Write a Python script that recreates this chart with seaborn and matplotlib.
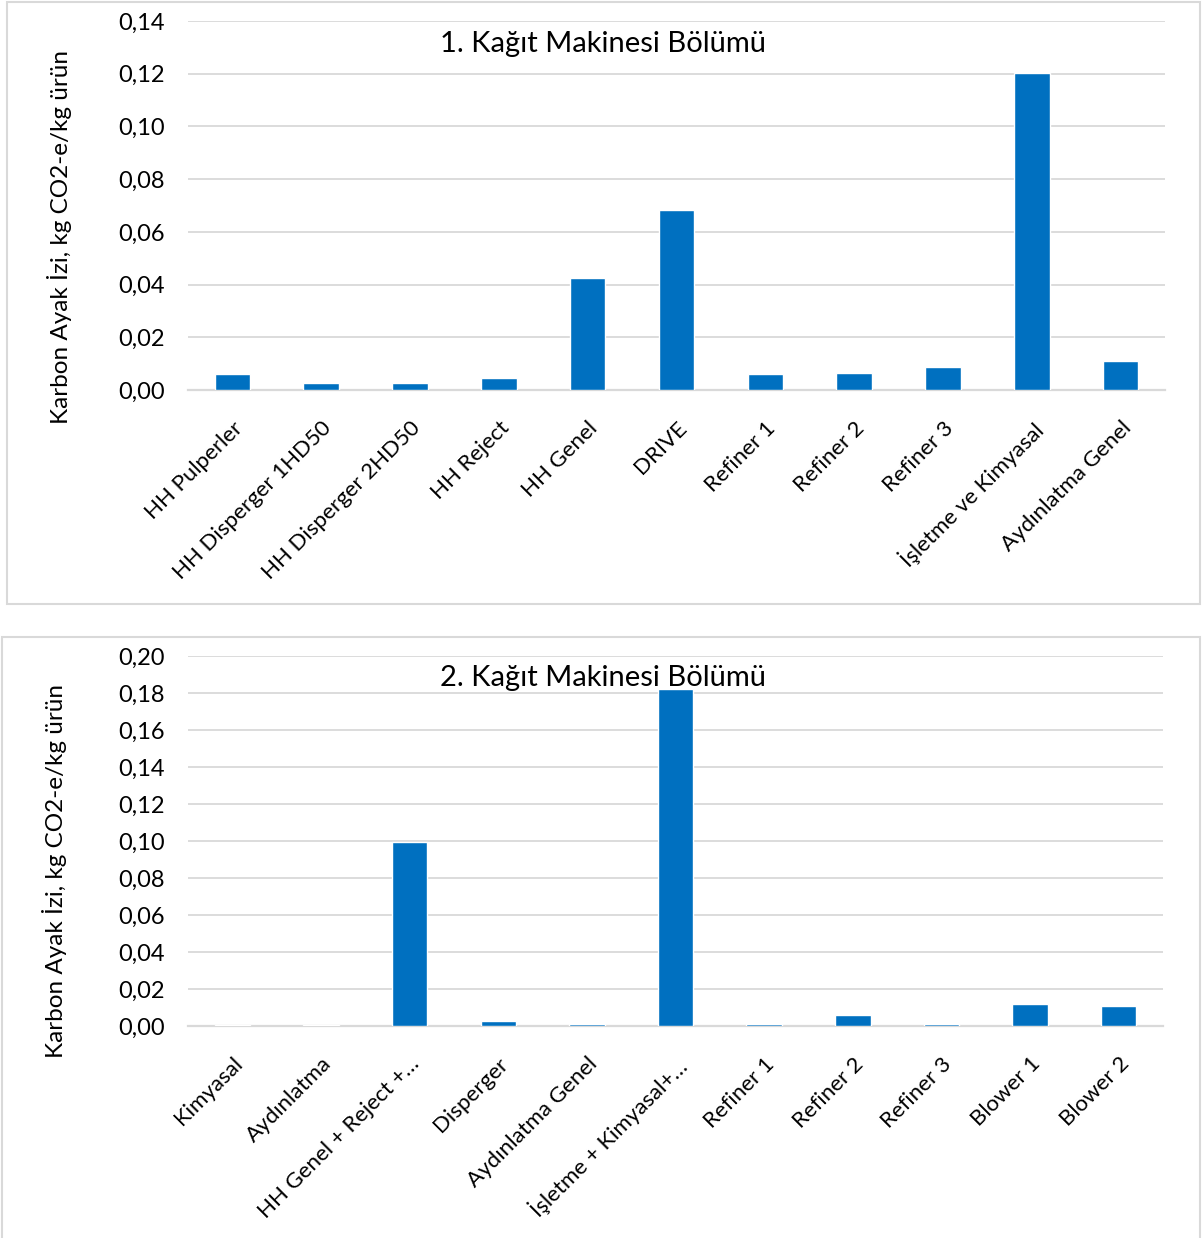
import matplotlib
matplotlib.use("Agg")
import matplotlib.pyplot as plt
from matplotlib.patches import Rectangle
from matplotlib.ticker import FuncFormatter, MultipleLocator
import seaborn as sns
import pandas as pd

sns.set_theme(style="white")
plt.rcParams["font.family"] = ["Lato", "DejaVu Sans"]

# Section 1
title_1 = "1. Kağıt Makinesi Bölümü"
categories_1 = ["HH Pulperler", "HH Disperger 1HD50", "HH Disperger 2HD50", "HH Reject",
                "HH Genel", "DRIVE", "Refiner 1", "Refiner 2", "Refiner 3",
                "İşletme ve Kimyasal", "Aydınlatma Genel"]
values_1 = [0.0062, 0.0028, 0.0025, 0.0046, 0.0425, 0.0683, 0.0062, 0.0063, 0.0088,
            0.1203, 0.0111]

# Section 2
title_2 = "2. Kağıt Makinesi Bölümü"
categories_2 = ["Kimyasal", "Aydınlatma", "HH Genel + Reject +…", "Disperger",
                "Aydınlatma Genel", "İşletme + Kimyasal+…", "Refiner 1", "Refiner 2",
                "Refiner 3", "Blower 1", "Blower 2"]
values_2 = [0.0006, 0.0003, 0.0995, 0.0027, 0.0012, 0.1820, 0.0011, 0.0060, 0.0011,
            0.0119, 0.0110]

y_label = "Karbon Ayak İzi, kg CO2-e/kg ürün"
bar_color = "#0070C0"
grid_color = "#d9d9d9"

W, H = 1202, 1238
fig = plt.figure(figsize=(W / 100, H / 100), dpi=100)


def fx(px):
    return px / W


def fy(py):
    return 1 - py / H


# panel frames
for (x0, y0, x1, y1) in [(7, 2, 1200, 604), (2, 637, 1200, 1240)]:
    fig.patches.append(Rectangle((fx(x0), fy(y1)), fx(x1 - x0), fy(y0) - fy(y1),
                                 transform=fig.transFigure, fill=False,
                                 edgecolor="#d9d9d9", linewidth=1.5, zorder=0))


def draw(ax, cats, vals, title, ymax, step, width, title_y):
    df = pd.DataFrame({"cat": cats, "val": vals})
    sns.barplot(data=df, x="cat", y="val", color=bar_color, saturation=1,
                width=width, ax=ax, zorder=3)
    ax.set_ylim(0, ymax)
    ax.yaxis.set_major_locator(MultipleLocator(step))
    ax.yaxis.set_major_formatter(FuncFormatter(lambda v, p: f"{v:.2f}".replace(".", ",")))
    ax.grid(axis="y", color=grid_color, linewidth=1.3, zorder=0)
    ax.set_axisbelow(True)
    for s in ["top", "right", "left"]:
        ax.spines[s].set_visible(False)
    ax.spines["bottom"].set_color(grid_color)
    ax.spines["bottom"].set_linewidth(1.6)
    ax.spines["bottom"].set_zorder(2)
    ax.tick_params(axis="y", length=0, labelsize=17, pad=17, labelcolor="black")
    ax.tick_params(axis="x", length=0, labelsize=16, pad=20, labelcolor="black")
    for lab in ax.get_xticklabels():
        lab.set_rotation(45)
        lab.set_ha("right")
        lab.set_rotation_mode("anchor")
    ax.set_xlabel("")
    ax.set_ylabel("")
    ax.set_xlim(-0.5, len(cats) - 0.5)
    fig.text(fx(603), fy(title_y), title, ha="center", va="center",
             fontsize=21, color="black", zorder=5)


ax1 = fig.add_axes([fx(188), fy(390), fx(1165 - 188), fy(21) - fy(390)])
draw(ax1, categories_1, values_1, title_1, 0.14, 0.02, 0.4, 44)
fig.text(fx(60), fy(237), y_label, rotation=90, ha="center", va="center",
         fontsize=17.5, color="black")

ax2 = fig.add_axes([fx(188), fy(1026), fx(1163 - 188), fy(656) - fy(1026)])
draw(ax2, categories_2, values_2, title_2, 0.20, 0.02, 0.4, 678)
fig.text(fx(55), fy(871), y_label, rotation=90, ha="center", va="center",
         fontsize=17.5, color="black")

fig.savefig("out.png", dpi=100, facecolor="white")
